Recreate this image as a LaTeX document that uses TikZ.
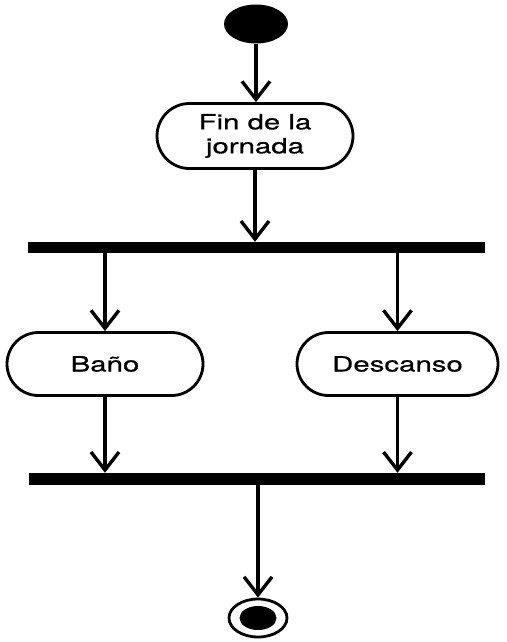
\documentclass[tikz,border=0pt]{standalone}
\usepackage{fontspec}
\setmainfont[FakeStretch=1.4,FakeBold=0.6]{TeX Gyre Heros}
\usetikzlibrary{shapes.geometric,shapes.misc,arrows.meta}
\tikzset{
  activity/.style={draw, line width=2.8pt, rounded rectangle, minimum height=63pt, align=center, inner sep=0pt, font=\fontsize{21}{24}\selectfont},
  bar/.style={fill=black, inner sep=0pt, minimum height=11pt},
  arr/.style={line width=3.4pt, -{Straight Barb[length=18pt,width=28pt]}}
}
\begin{document}
\begin{tikzpicture}[x=1pt,y=-1pt]
\useasboundingbox (0,0) rectangle (506,642);
\node[ellipse, fill=black, minimum width=64pt, minimum height=39pt, inner sep=0pt] (start) at (256,24) {};
\node[activity, minimum width=196pt, minimum height=65pt] (fin) at (255,136) {Fin de la\\jornada};
\node[bar, minimum width=457pt] (fork) at (256.5,247.5) {};
\node[activity, minimum width=196pt] (bano) at (105,364) {Baño};
\node[activity, minimum width=201pt] (desc) at (397.5,364) {Descanso};
\node[bar, minimum width=456pt, minimum height=12pt] (join) at (257,479) {};
\node[ellipse, draw, line width=2.8pt, minimum width=58pt, minimum height=38pt, inner sep=0pt] (end) at (258,618) {};
\node[ellipse, fill=black, minimum width=37pt, minimum height=24pt, inner sep=0pt] (endin) at (end.center) {};
\draw[arr] (start.south) -- (start.south |- fin.north);
\draw[arr] (fin.south) -- (fin.south |- fork.north);
\draw[arr] (fork.south -| bano.north) -- (bano.north);
\draw[arr] (fork.south -| desc.north) -- (desc.north);
\draw[arr] (bano.south) -- (bano.south |- join.north);
\draw[arr] (desc.south) -- (desc.south |- join.north);
\draw[arr] (join.south -| end.north) -- (end.north);
\end{tikzpicture}
\end{document}
